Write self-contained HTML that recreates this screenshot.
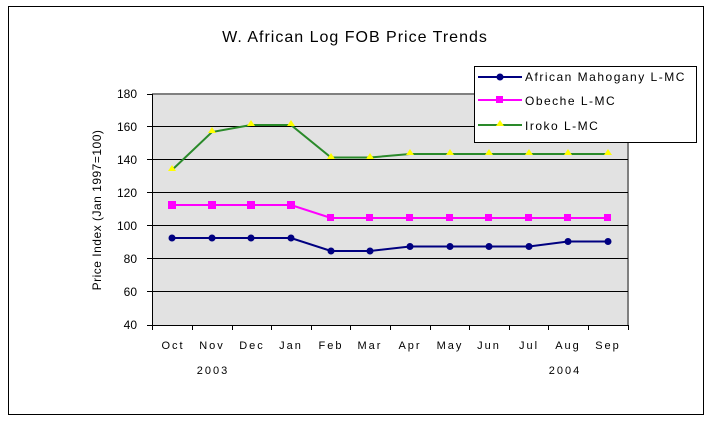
<!DOCTYPE html>
<html><head><style>body{margin:0;background:#fff}</style></head><body>
<svg width="708" height="424" xmlns="http://www.w3.org/2000/svg" font-family="Liberation Sans, sans-serif">
<rect x="8.5" y="6.5" width="695" height="408" fill="#fff" stroke="#000"/>
<text x="355" y="42" font-size="16" text-anchor="middle" letter-spacing="1">W. African Log FOB Price Trends</text>
<rect x="152" y="94" width="476" height="231" fill="#e2e2e2"/>
<line x1="152" y1="94" x2="628" y2="94" stroke="#808080" stroke-width="2"/>
<line x1="628" y1="94" x2="628" y2="325" stroke="#808080" stroke-width="2"/>
<g stroke="#000" stroke-width="1">
<line x1="152" y1="126.5" x2="628" y2="126.5"/><line x1="152" y1="159.5" x2="628" y2="159.5"/>
<line x1="152" y1="192.5" x2="628" y2="192.5"/><line x1="152" y1="225.5" x2="628" y2="225.5"/>
<line x1="152" y1="258.5" x2="628" y2="258.5"/><line x1="152" y1="291.5" x2="628" y2="291.5"/>
<line x1="152.5" y1="94" x2="152.5" y2="330"/><line x1="147" y1="325.5" x2="628" y2="325.5"/>
<line x1="147" y1="94.5" x2="152" y2="94.5"/><line x1="147" y1="126.5" x2="152" y2="126.5"/><line x1="147" y1="159.5" x2="152" y2="159.5"/><line x1="147" y1="192.5" x2="152" y2="192.5"/><line x1="147" y1="225.5" x2="152" y2="225.5"/><line x1="147" y1="258.5" x2="152" y2="258.5"/><line x1="147" y1="291.5" x2="152" y2="291.5"/>
<line x1="192.5" y1="325" x2="192.5" y2="330"/><line x1="232.5" y1="325" x2="232.5" y2="330"/><line x1="271.5" y1="325" x2="271.5" y2="330"/><line x1="311.5" y1="325" x2="311.5" y2="330"/><line x1="350.5" y1="325" x2="350.5" y2="330"/><line x1="390.5" y1="325" x2="390.5" y2="330"/><line x1="430.5" y1="325" x2="430.5" y2="330"/><line x1="469.5" y1="325" x2="469.5" y2="330"/><line x1="509.5" y1="325" x2="509.5" y2="330"/><line x1="548.5" y1="325" x2="548.5" y2="330"/><line x1="588.5" y1="325" x2="588.5" y2="330"/><line x1="628.5" y1="325" x2="628.5" y2="330"/>
</g>
<g font-size="12" text-anchor="end">
<text x="137" y="98">180</text><text x="137" y="131">160</text><text x="137" y="164">140</text><text x="137" y="197">120</text><text x="137" y="230">100</text><text x="137" y="263">80</text><text x="137" y="296">60</text><text x="137" y="329">40</text>
</g>
<g font-size="11" text-anchor="middle" letter-spacing="2">
<text x="173" y="349">Oct</text><text x="212" y="349">Nov</text><text x="252" y="349">Dec</text><text x="291" y="349">Jan</text><text x="331" y="349">Feb</text><text x="370" y="349">Mar</text><text x="410" y="349">Apr</text><text x="450" y="349">May</text><text x="489" y="349">Jun</text><text x="529" y="349">Jul</text><text x="568" y="349">Aug</text><text x="608" y="349">Sep</text>
<text x="213" y="374">2003</text><text x="565" y="374">2004</text>
</g>
<text transform="translate(101,210) rotate(-90)" font-size="12" text-anchor="middle" letter-spacing="0.5">Price Index (Jan 1997=100)</text>
<g fill="none" stroke-width="2">
<polyline stroke="#2a8a2a" points="172,170 212,132 251,125 291,125 331,157.5 370,157.5 410,154 450,154 489,154 529,154 568,154 608,154"/>
<polyline stroke="#ff00ff" points="172,205 212,205 251,205 291,205 331,218 370,218 410,218 450,218 489,218 529,218 568,218 608,218"/>
<polyline stroke="#000080" points="172,238 212,238 251,238 291,238 331,251 370,251 410,246.5 450,246.5 489,246.5 529,246.5 568,241.5 608,241.5"/>
</g>
<g fill="#ffff00">
<path d="M172,165l4,6h-8z M212,127l4,6h-8z M251,120l4,6h-8z M291,120l4,6h-8z M331,153l4,6h-8z M370,153l4,6h-8z M410,149l4,6h-8z M450,149l4,6h-8z M489,149l4,6h-8z M529,149l4,6h-8z M568,149l4,6h-8z M608,149l4,6h-8z"/>
</g>
<g fill="#ff00ff">
<rect x="168" y="201" width="8" height="8"/><rect x="208" y="201" width="8" height="8"/><rect x="247" y="201" width="8" height="8"/><rect x="287" y="201" width="8" height="8"/><rect x="327" y="214" width="7" height="7"/><rect x="366" y="214" width="7" height="7"/><rect x="406" y="214" width="7" height="7"/><rect x="446" y="214" width="7" height="7"/><rect x="485" y="214" width="7" height="7"/><rect x="525" y="214" width="7" height="7"/><rect x="564" y="214" width="7" height="7"/><rect x="604" y="214" width="7" height="7"/>
</g>
<g fill="#000080">
<circle cx="172" cy="238" r="3.5"/><circle cx="212" cy="238" r="3.5"/><circle cx="251" cy="238" r="3.5"/><circle cx="291" cy="238" r="3.5"/><circle cx="331" cy="251" r="3.5"/><circle cx="370" cy="251" r="3.5"/><circle cx="410" cy="246.5" r="3.5"/><circle cx="450" cy="246.5" r="3.5"/><circle cx="489" cy="246.5" r="3.5"/><circle cx="529" cy="246.5" r="3.5"/><circle cx="568" cy="241.5" r="3.5"/><circle cx="608" cy="241.5" r="3.5"/>
</g>
<rect x="474.5" y="66.5" width="222" height="76" fill="#fff" stroke="#000"/>
<line x1="478" y1="77" x2="522" y2="77" stroke="#000080" stroke-width="2"/><circle cx="500" cy="77" r="3.5" fill="#000080"/>
<line x1="478" y1="100" x2="522" y2="100" stroke="#ff00ff" stroke-width="2"/><rect x="496" y="96" width="7" height="7" fill="#ff00ff"/>
<line x1="478" y1="125" x2="522" y2="125" stroke="#2a8a2a" stroke-width="2"/><path d="M500,120l4,6h-8z" fill="#ffff00"/>
<g font-size="12" letter-spacing="1.5">
<text x="525" y="81">African Mahogany L-MC</text><text x="525" y="105">Obeche L-MC</text><text x="525" y="130">Iroko L-MC</text>
</g>
</svg>
</body></html>
